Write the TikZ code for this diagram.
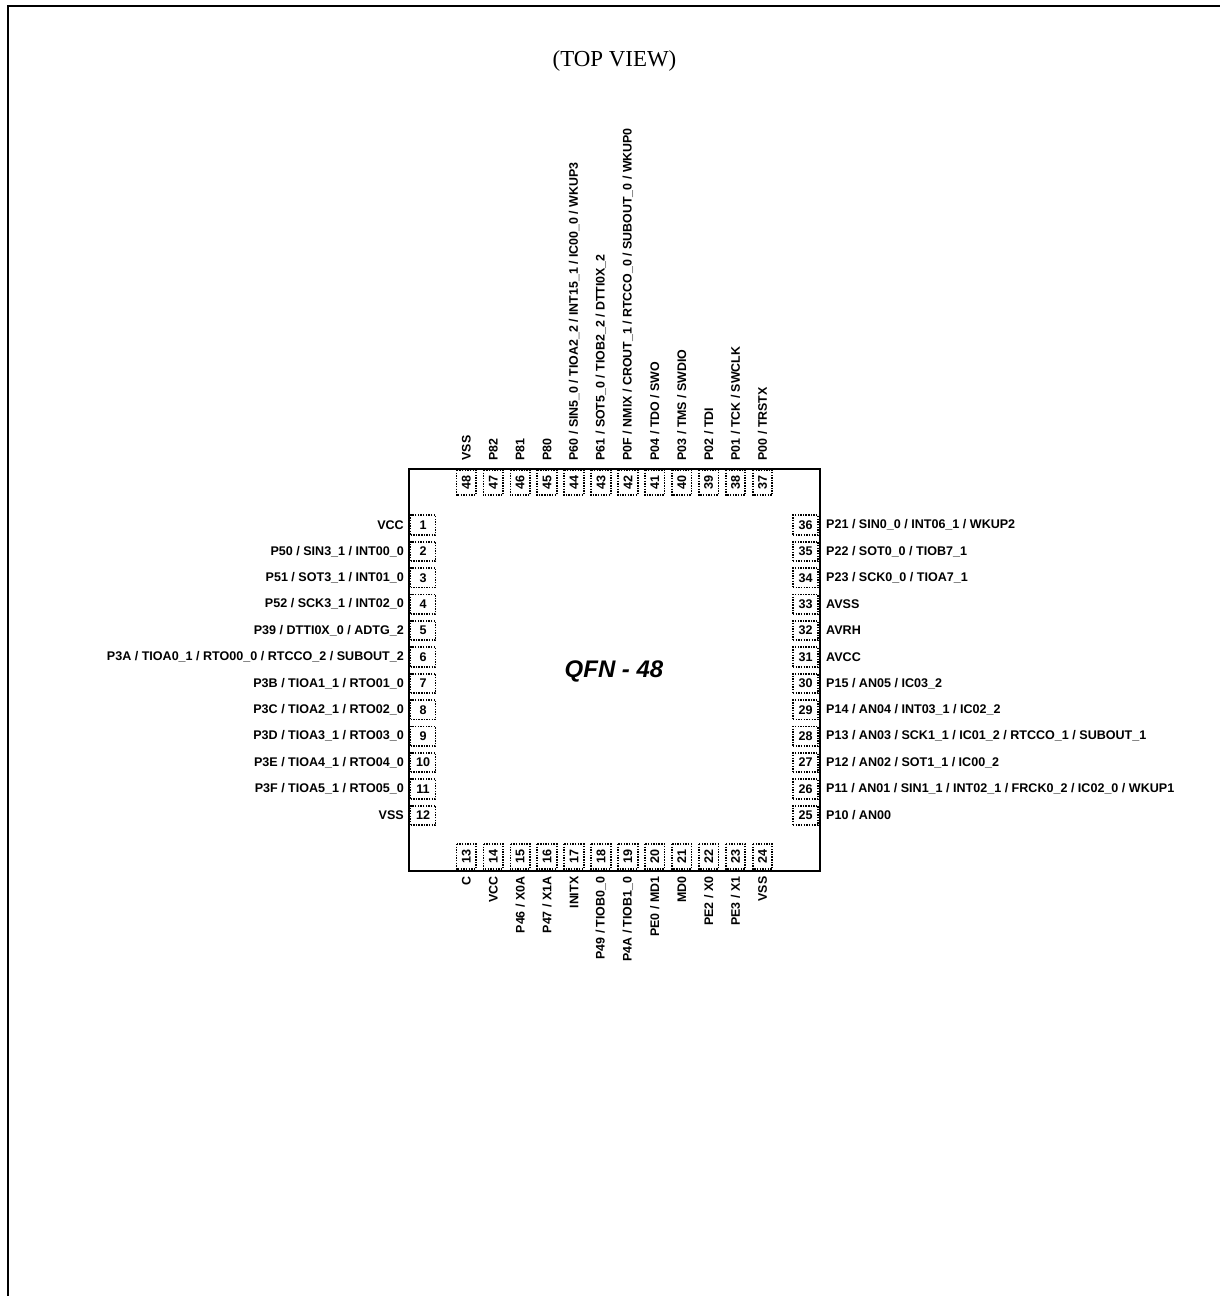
\documentclass[tikz,border=0pt]{standalone}
\usepackage{fontspec}
\setmainfont{Liberation Serif}
\setsansfont{Liberation Sans}
\newcommand\lblfont{\sffamily\bfseries\fontsize{12.55}{14}\selectfont}
\newcommand\vlblfont{\sffamily\bfseries\fontsize{12.4}{14}\selectfont}
\tikzset{
  x=1pt,y=-1pt,
  frameline/.style={line width=2pt,line cap=butt},
  chip/.style={draw,line width=2pt,minimum width=411pt,minimum height=402.5pt,inner sep=0pt},
  pinbox/.style={draw,line width=1.8pt,dash pattern=on 1.4pt off 1.25pt,minimum width=25pt,minimum height=19.5pt,inner sep=0pt,font=\lblfont},
  vpinbox/.style={pinbox,rotate=90},
  lbl/.style={inner sep=0pt,font=\lblfont},
  vlbl/.style={inner sep=0pt,font=\vlblfont,rotate=90},
}
\newcommand\lpin[2]{%
  \pgfmathsetmacro\py{525+26.4*(#1-1)}
  \node[pinbox] (p#1) at (423,\py) {#1};
  \node[lbl,anchor=east] (t#1) at (404,\py) {#2};}
\newcommand\rpin[2]{%
  \pgfmathsetmacro\py{525+26.4*(36-#1)}
  \node[pinbox] (p#1) at (805.5,\py) {#1};
  \node[lbl,anchor=west] (t#1) at (826,\py) {#2};}
\newcommand\bpin[2]{%
  \pgfmathsetmacro\px{466.3+26.93*(#1-13)}
  \node[vpinbox] (p#1) at (\px,856.5) {#1};
  \node[vlbl,anchor=east] (t#1) at (\px,876.5) {#2};}
\newcommand\tpin[2]{%
  \pgfmathsetmacro\px{466.3+26.93*(48-#1)}
  \node[vpinbox] (p#1) at (\px,482.5) {#1};
  \node[vlbl,anchor=west] (t#1) at (\px,460.5) {#2};}
\begin{document}
\begin{tikzpicture}
\useasboundingbox (0,0) rectangle (1220,1296);
\coordinate (ftop) at (1220,6);
\coordinate (fcorner) at (8,6);
\coordinate (fbot) at (8,1296);
\draw[frameline] (ftop) -- (fcorner) -- (fbot);
\node[font=\rmfamily\fontsize{22.9}{26}\selectfont] (title) at (614.5,61) {(TOP VIEW)};
\node[chip] (ic) at (614.5,669.75) {};
\node[font=\sffamily\bfseries\itshape\fontsize{24}{26}\selectfont] (name) at (614,671) {QFN - 48};
\lpin{1}{VCC}
\lpin{2}{P50 / SIN3\_1 / INT00\_0}
\lpin{3}{P51 / SOT3\_1 / INT01\_0}
\lpin{4}{P52 / SCK3\_1 / INT02\_0}
\lpin{5}{P39 / DTTI0X\_0 / ADTG\_2}
\lpin{6}{P3A / TIOA0\_1 / RTO00\_0 / RTCCO\_2 / SUBOUT\_2}
\lpin{7}{P3B / TIOA1\_1 / RTO01\_0}
\lpin{8}{P3C / TIOA2\_1 / RTO02\_0}
\lpin{9}{P3D / TIOA3\_1 / RTO03\_0}
\lpin{10}{P3E / TIOA4\_1 / RTO04\_0}
\lpin{11}{P3F / TIOA5\_1 / RTO05\_0}
\lpin{12}{VSS}
\bpin{13}{C}
\bpin{14}{VCC}
\bpin{15}{P46 / X0A}
\bpin{16}{P47 / X1A}
\bpin{17}{INITX}
\bpin{18}{P49 / TIOB0\_0}
\bpin{19}{P4A / TIOB1\_0}
\bpin{20}{PE0 / MD1}
\bpin{21}{MD0}
\bpin{22}{PE2 / X0}
\bpin{23}{PE3 / X1}
\bpin{24}{VSS}
\rpin{25}{P10 / AN00}
\rpin{26}{P11 / AN01 / SIN1\_1 / INT02\_1 / FRCK0\_2 / IC02\_0 / WKUP1}
\rpin{27}{P12 / AN02 / SOT1\_1 / IC00\_2}
\rpin{28}{P13 / AN03 / SCK1\_1 / IC01\_2 / RTCCO\_1 / SUBOUT\_1}
\rpin{29}{P14 / AN04 / INT03\_1 / IC02\_2}
\rpin{30}{P15 / AN05 / IC03\_2}
\rpin{31}{AVCC}
\rpin{32}{AVRH}
\rpin{33}{AVSS}
\rpin{34}{P23 / SCK0\_0 / TIOA7\_1}
\rpin{35}{P22 / SOT0\_0 / TIOB7\_1}
\rpin{36}{P21 / SIN0\_0 / INT06\_1 / WKUP2}
\tpin{37}{P00 / TRSTX}
\tpin{38}{P01 / TCK / SWCLK}
\tpin{39}{P02 / TDI}
\tpin{40}{P03 / TMS / SWDIO}
\tpin{41}{P04 / TDO / SWO}
\tpin{42}{P0F / NMIX / CROUT\_1 / RTCCO\_0 / SUBOUT\_0 / WKUP0}
\tpin{43}{P61 / SOT5\_0 / TIOB2\_2 / DTTI0X\_2}
\tpin{44}{P60 / SIN5\_0 / TIOA2\_2 / INT15\_1 / IC00\_0 / WKUP3}
\tpin{45}{P80}
\tpin{46}{P81}
\tpin{47}{P82}
\tpin{48}{VSS}
\end{tikzpicture}
\end{document}
